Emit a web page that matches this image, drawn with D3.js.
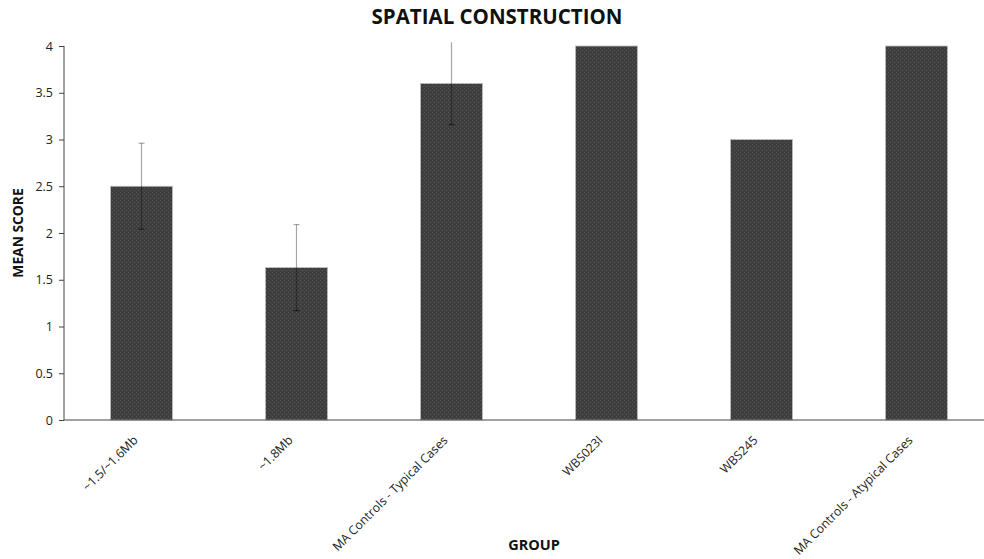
<!DOCTYPE html>
<html>
<head>
<meta charset="utf-8">
<script src="https://cdn.jsdelivr.net/npm/d3@7"></script>
<style>
  html, body { margin: 0; padding: 0; background: #fff; }
  svg { display: block; }
</style>
</head>
<body>
<svg id="chart" width="984" height="559"></svg>
<script>
// Mean spatial construction score per group, with error bar half-widths
const groups = ["~1.5/~1.6Mb", "~1.8Mb", "MA Controls - Typical Cases", "WBS023I", "WBS245", "MA Controls - Atypical Cases"];
const meanScores = [2.5, 1.63, 3.6, 4, 3, 4];
const errors = [0.46, 0.46, 0.44, 0, 0, 0];
const yTicks = [0, 0.5, 1, 1.5, 2, 2.5, 3, 3.5, 4];

const svg = d3.select("#chart");
const font = "'Open Sans', 'Liberation Sans', sans-serif";

const x = d3.scaleBand().domain(groups).range([64, 994]).paddingInner(0.6).paddingOuter(0.3);
const y = d3.scaleLinear().domain([0, 4]).range([420, 46]);

// textured dark fill for the bars
const defs = svg.append("defs");
const pat = defs.append("pattern").attr("id", "tex").attr("patternUnits", "userSpaceOnUse")
  .attr("width", 4).attr("height", 4);
pat.append("rect").attr("width", 4).attr("height", 4).attr("fill", "#3f3f3f");
pat.append("rect").attr("x", 0).attr("y", 0).attr("width", 1).attr("height", 1).attr("fill", "#555");
pat.append("rect").attr("x", 2).attr("y", 2).attr("width", 1).attr("height", 1).attr("fill", "#555");
pat.append("rect").attr("x", 2).attr("y", 0).attr("width", 1).attr("height", 1).attr("fill", "#353535");

// title
svg.append("text").attr("x", 497).attr("y", 24).attr("text-anchor", "middle")
  .attr("font-family", font).attr("font-weight", "bold").attr("font-size", 20.5)
  .attr("fill", "#111").text("SPATIAL CONSTRUCTION");

// bars
svg.append("g").selectAll("rect").data(groups).join("rect")
  .attr("x", d => x(d)).attr("width", x.bandwidth())
  .attr("y", (d, i) => y(meanScores[i]))
  .attr("height", (d, i) => y(0) - y(meanScores[i]))
  .attr("fill", "url(#tex)").attr("stroke", "#bdbdbd").attr("stroke-width", 0.8);

// error bars
const eb = svg.append("g").attr("stroke", "#000").attr("stroke-opacity", 0.35).attr("stroke-width", 1.2);
groups.forEach((g, i) => {
  if (!errors[i]) return;
  const cx = x(g) + x.bandwidth() / 2;
  const hi = meanScores[i] + errors[i], lo = meanScores[i] - errors[i];
  eb.append("line").attr("x1", cx).attr("x2", cx).attr("y1", y(lo)).attr("y2", y(hi));
  if (hi <= 4) {
    eb.append("line").attr("x1", cx - 3).attr("x2", cx + 3).attr("y1", y(hi)).attr("y2", y(hi));
  }
  eb.append("line").attr("x1", cx - 3).attr("x2", cx + 3).attr("y1", y(lo)).attr("y2", y(lo))
    .attr("stroke-opacity", 0.5);
});

// y axis
const yAxis = svg.append("g").attr("transform", "translate(64,0)")
  .call(d3.axisLeft(y).tickValues(yTicks).tickSize(5).tickPadding(6).tickFormat(d3.format("~g")));
yAxis.select(".domain").attr("stroke", "#444").attr("d", "M0,46V420");
yAxis.selectAll(".tick line").attr("stroke", "#444");
yAxis.selectAll("text").attr("font-family", font).attr("font-size", 12.5).attr("fill", "#222");

// x axis
const xAxis = svg.append("g").attr("transform", "translate(0,420)")
  .call(d3.axisBottom(x).tickSize(0).tickPadding(0));
xAxis.select(".domain").attr("stroke", "#444").attr("stroke-width", 1.2).attr("d", "M64,0H994");
xAxis.selectAll(".tick text")
  .attr("font-family", font).attr("font-size", 12.3).attr("fill", "#222")
  .attr("text-anchor", "end").attr("dy", 0).attr("y", 0)
  .attr("transform", "translate(-3,21) rotate(-45)");

// axis titles
svg.append("text").attr("transform", "translate(23,233) rotate(-90)").attr("text-anchor", "middle")
  .attr("font-family", font).attr("font-weight", "bold").attr("font-size", 13.8)
  .attr("fill", "#111").text("MEAN SCORE");
svg.append("text").attr("x", 534).attr("y", 550).attr("text-anchor", "middle")
  .attr("font-family", font).attr("font-weight", "bold").attr("font-size", 14.5)
  .attr("fill", "#111").text("GROUP");
</script>
</body>
</html>
